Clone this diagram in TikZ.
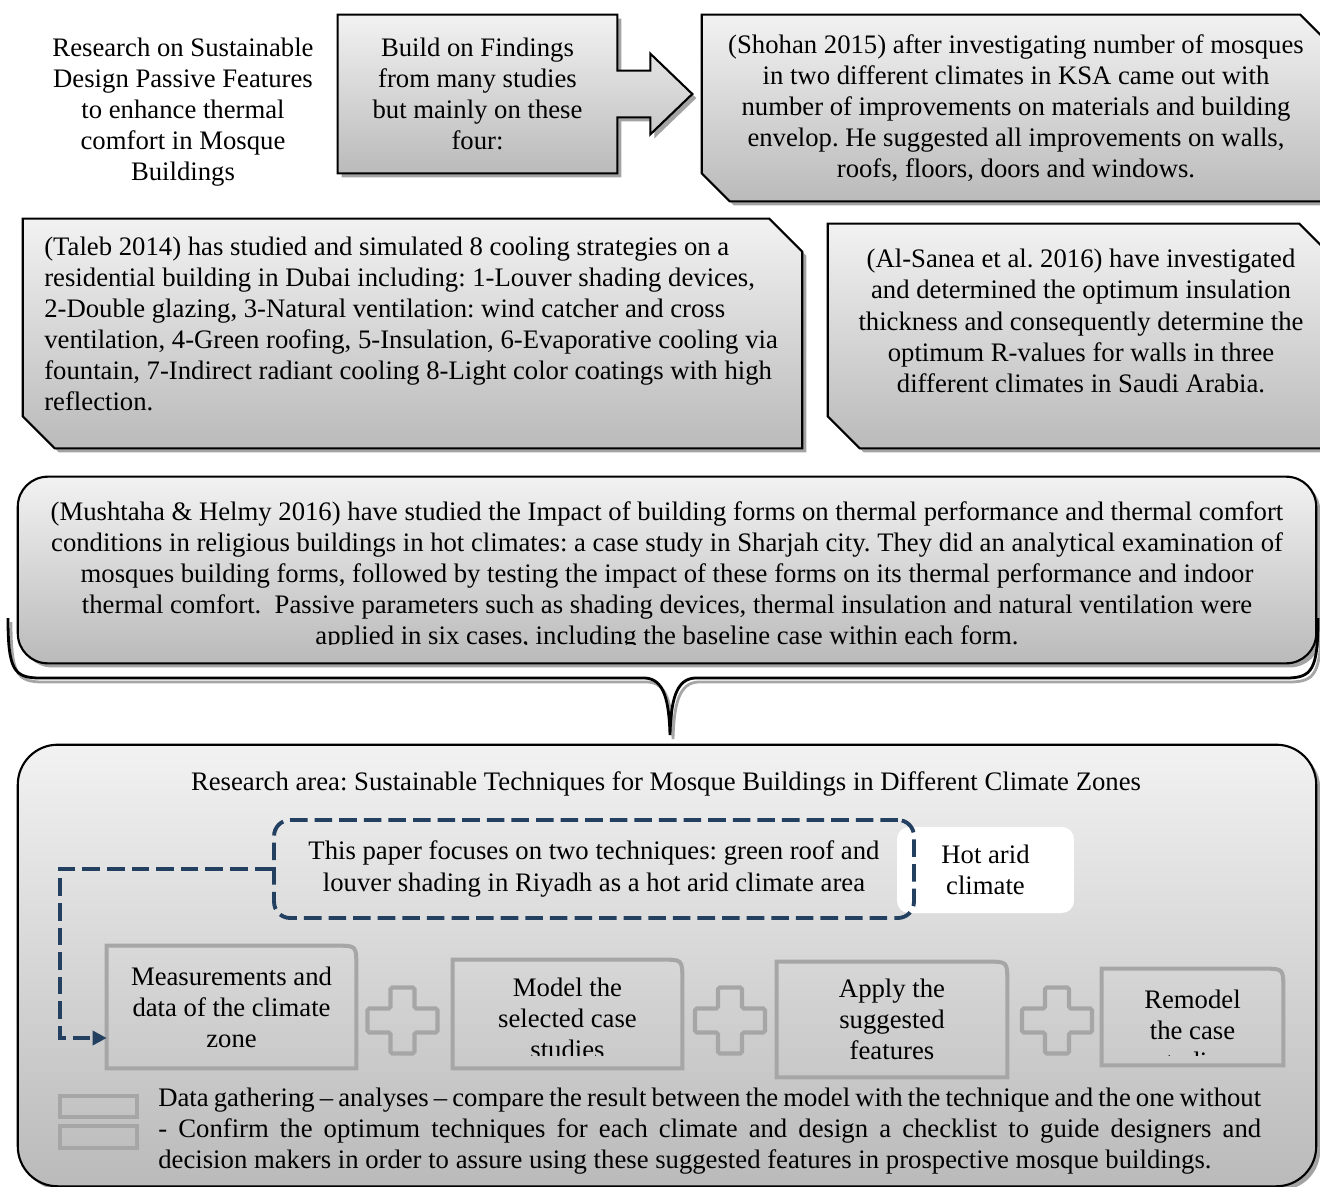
\documentclass[tikz,border=0pt]{standalone}
\usepackage{fontspec}
\setmainfont{Liberation Serif}
\usetikzlibrary{arrows.meta,calc,shadows,backgrounds}
\frenchspacing

\definecolor{boxTop}{RGB}{242,242,242}
\definecolor{boxBottom}{RGB}{186,186,186}
\definecolor{linkBlue}{RGB}{36,64,97}
\definecolor{stepGrey}{RGB}{166,166,166}

\begin{document}
\begin{tikzpicture}[
        x=0.02cm, y=-0.02cm,
        every node/.style={font=\fontsize{15.2}{17.7}\selectfont, inner sep=0pt},
        greyShape/.style={draw=black, line width=1.2pt, top color=boxTop, bottom color=boxBottom,
            drop shadow={shadow xshift=2.3pt, shadow yshift=-2.3pt, fill=black!45, opacity=0.8}},
        stepLine/.style={draw=stepGrey, line width=2.3pt},
        dashLink/.style={draw=linkBlue, line width=2.2pt, dash pattern=on 10pt off 4pt},
        plusSign/.pic={
            \draw[stepLine, rounded corners=1pt] (-35,-12) -- (-12,-12) -- (-12,-33) -- (12,-33) -- (12,-12) -- (35,-12)
                -- (35,12) -- (12,12) -- (12,33) -- (-12,33) -- (-12,12) -- (-35,12) -- cycle;
        }
    ]
    \useasboundingbox (0,0) rectangle (1320,1187);

    % findings
    \node[align=center] (topic) at (183,112) {Research on Sustainable\\Design Passive Features\\to enhance thermal\\comfort in Mosque\\Buildings};
    \node[align=center, minimum width=5.58cm, minimum height=3.16cm] (build) at (477.5,94)
        {Build on Findings\\from many studies\\but mainly on these\\four:};
    \node[align=center, minimum width=12.56cm, minimum height=3.72cm] (shohan) at (1016,108)
        {(Shohan 2015) after investigating number of mosques\\in two different climates in KSA came out with\\number of improvements on materials and building\\envelop. He suggested all improvements on walls,\\roofs, floors, doors and windows.};

    \node[minimum width=15.58cm, minimum height=4.58cm] (talebBox) at (412.5,333.5) {};
    \node[align=left, anchor=west] (taleb) at (44,324)
        {(Taleb 2014) has studied and simulated 8 cooling strategies on a\\residential building in Dubai including: 1-Louver shading devices,\\2-Double glazing, 3-Natural ventilation: wind catcher and cross\\ventilation, 4-Green roofing, 5-Insulation, 6-Evaporative cooling via\\fountain, 7-Indirect radiant cooling 8-Light color coatings with high\\reflection.};

    \node[minimum width=10.08cm, minimum height=4.48cm] (alsaneaBox) at (1080,336) {};
    \node[align=center] (alsanea) at (1081,321)
        {(Al-Sanea et al. 2016) have investigated\\and determined the optimum insulation\\thickness and consequently determine the\\optimum R-values for walls in three\\different climates in Saudi Arabia.};

    \node[minimum width=25.96cm, minimum height=3.72cm] (mushtahaBox) at (667,570) {};
    \begin{scope}
        \clip (0,470) rectangle (1320,644);
        \node[align=center] (mushtaha) at (667,576)
            {(Mushtaha \& Helmy 2016) have studied the Impact of building forms on thermal performance and thermal comfort\\conditions in religious buildings in hot climates: a case study in Sharjah city. They did an analytical examination of\\mosques building forms, followed by testing the impact of these forms on its thermal performance and indoor\\thermal comfort.\ \ Passive parameters such as shading devices, thermal insulation and natural ventilation were\\applied in six cases, including the baseline case within each form.};
    \end{scope}

    % brace
    \draw[black!35, line width=1.6pt] (11,622) .. controls (11,674) and (17,682) .. (43,682) -- (648,682)
        .. controls (667,683) and (672,704) .. (673,739) .. controls (674,704) and (679,683) .. (698,682)
        -- (1289,682) .. controls (1315,682) and (1321,674) .. (1321,622);
    \draw[line width=1.6pt] (8,618) .. controls (8,670) and (14,678) .. (40,678) -- (645,678)
        .. controls (664,679) and (669,700) .. (670,735) .. controls (671,700) and (676,679) .. (695,678)
        -- (1286,678) .. controls (1312,678) and (1318,670) .. (1318,618);

    % research area
    \node[minimum width=25.96cm, minimum height=8.82cm] (area) at (667,965.5) {};
    \node (areaTitle) at (666,784) {Research area: Sustainable Techniques for Mosque Buildings in Different Climate Zones};

    \node[align=center, fill=white, rounded corners=0.24cm, minimum width=3.54cm, minimum height=1.72cm] (hot) at (985.5,870)
        {Hot arid\\climate};
    \node[align=center, dashLink, rounded corners=0.32cm, minimum width=12.8cm, minimum height=1.96cm] (focus) at (594,869)
        {This paper focuses on two techniques: green roof and\\louver shading in Riyadh as a hot arid climate area};

    \node[align=center, minimum width=4.98cm, minimum height=2.44cm] (meas) at (231.5,1007)
        {Measurements and\\data of the climate\\zone};
    \node[minimum width=4.58cm, minimum height=2.16cm] (modelBox) at (567.5,1014) {};
    \node[align=center, minimum width=4.6cm, minimum height=2.3cm] (apply) at (892,1019.5)
        {Apply the\\suggested\\features};
    \node[minimum width=3.62cm, minimum height=1.92cm] (remodelBox) at (1192.5,1017) {};
    \begin{scope}
        \clip (440,950) rectangle (1300,1055);
        \node[align=center] (model) at (567.5,1018) {Model the\\selected case\\studies};
        \node[align=center] (remodel) at (1192.5,1030) {Remodel\\the case\\studies};
    \end{scope}

    \foreach \b in {meas,modelBox,apply,remodelBox}
        \draw[stepLine] (\b.south west) -- (\b.north west) -- ($(\b.north east)+(-20,0)$)
            .. controls (\b.north east) .. ($(\b.north east)+(0,20)$) -- (\b.south east) -- cycle;
    \foreach \px in {402.5,730,1057}
        \pic at (\px,1020.5) {plusSign};

    \draw[dashLink, -{Triangle[length=8pt,width=8pt]}] (focus.west) -- ++(-212,0) |- ($(meas.west)+(0,31)$);

    \draw[stepLine, line width=2pt] (60,1096) rectangle (137,1117);
    \draw[stepLine, line width=2pt] (60,1126) rectangle (137,1148);
    \node[align=justify, text width=22.06cm, anchor=west] (summary) at (158,1131)
        {\noindent Data gathering – analyses – compare the result between the model with the technique and the one without\linebreak
        - Confirm the optimum techniques for each climate and design a checklist to guide designers and\linebreak
        decision makers in order to assure using these suggested features in prospective mosque buildings.};

    % shapes behind
    \begin{scope}[on background layer]
        \path[greyShape, rounded corners=0.8cm] (area.north west) rectangle (area.south east);
        \path[greyShape, rounded corners=0.6cm] (mushtahaBox.north west) rectangle (mushtahaBox.south east);
        \path[greyShape] (build.north west) -- (build.north east) -- ($(build.north east)+(0,56)$)
            -- ($(build.north east)+(33,56)$) -- ($(build.north east)+(33,39)$) -- ($(build.east)+(75,0)$)
            -- ($(build.south east)+(33,-39)$) -- ($(build.south east)+(33,-56)$) -- ($(build.south east)+(0,-56)$)
            -- (build.south east) -- (build.south west) -- cycle;
        \path[greyShape] (shohan.north west) -- ($(shohan.north east)+(-30,0)$) -- ($(shohan.north east)+(0,30)$)
            -- (shohan.south east) -- ($(shohan.south west)+(28,0)$) -- ($(shohan.south west)+(0,-28)$) -- cycle;
        \path[greyShape] (talebBox.north west) -- ($(talebBox.north east)+(-33,0)$) -- ($(talebBox.north east)+(0,33)$)
            -- (talebBox.south east) -- ($(talebBox.south west)+(32,0)$) -- ($(talebBox.south west)+(0,-32)$) -- cycle;
        \path[greyShape] (alsaneaBox.north west) -- ($(alsaneaBox.north east)+(-33,0)$) -- ($(alsaneaBox.north east)+(0,33)$)
            -- (alsaneaBox.south east) -- ($(alsaneaBox.south west)+(32,0)$) -- ($(alsaneaBox.south west)+(0,-32)$) -- cycle;
    \end{scope}

\end{tikzpicture}
\end{document}
